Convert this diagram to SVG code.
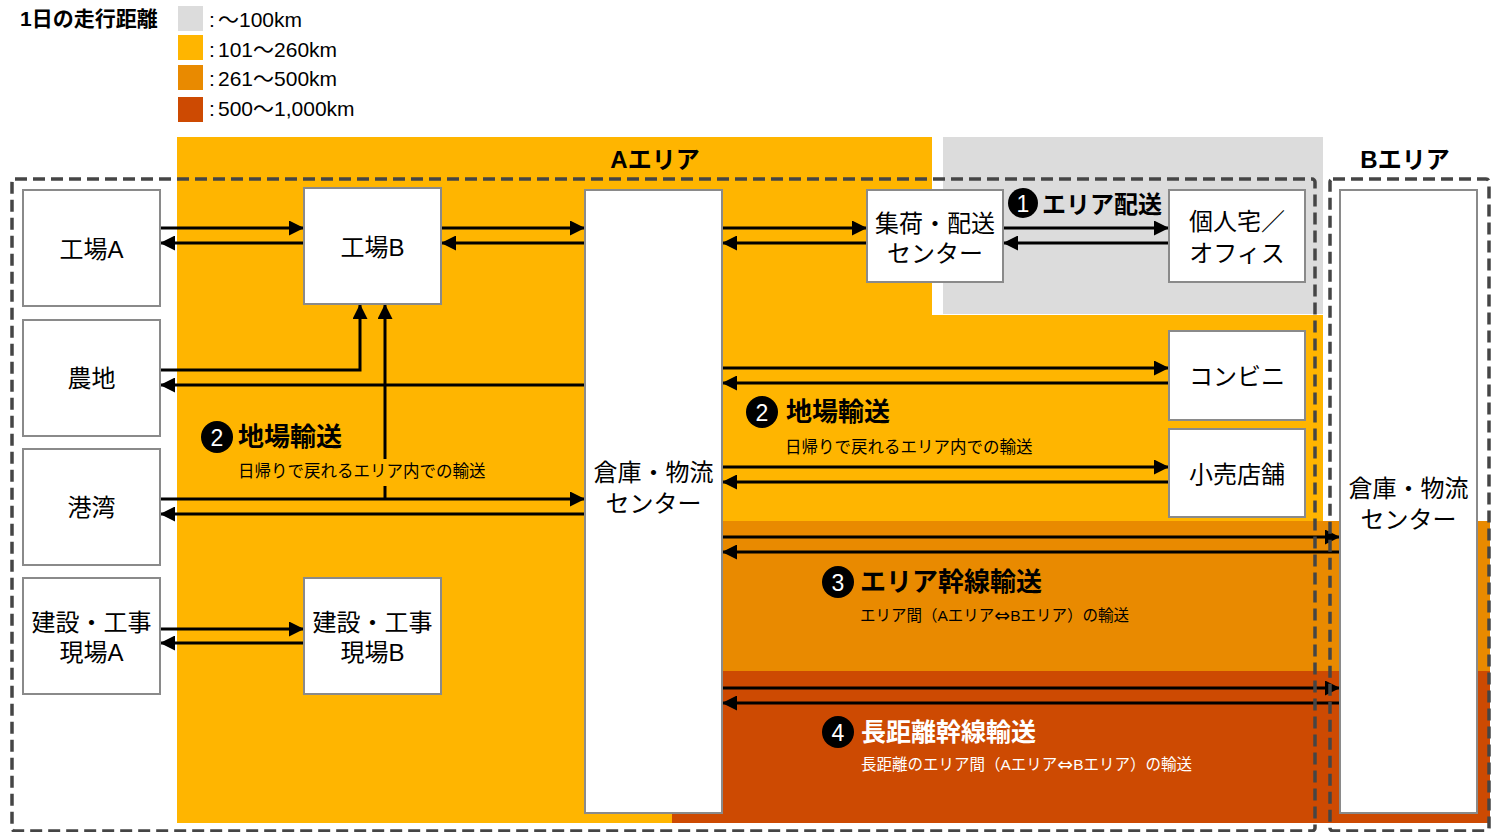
<svg xmlns="http://www.w3.org/2000/svg" width="1498" height="832" viewBox="0 0 1498 832">
  <style>
    text { font-family: "Liberation Sans", "Noto Sans CJK JP", sans-serif; fill: #000; }
    .node rect { fill: #fff; stroke: #8a8a8a; stroke-width: 2; }
    .node text { font-size: 24px; text-anchor: middle; dominant-baseline: central; }
    .area { fill: none; stroke: #454545; stroke-width: 3.5; stroke-dasharray: 12 6; }
    .conn path { fill: none; stroke: #000; stroke-width: 3; marker-end: url(#arrow); }
    .head { font-size: 26px; font-weight: bold; dominant-baseline: central; }
    .sub { font-size: 16.5px; dominant-baseline: central; }
    .dbl { font-family: "DejaVu Sans", sans-serif; font-size: 19px; }
    .num circle { fill: #000; }
    .num text { fill: #fff; font-size: 23px; text-anchor: middle; dominant-baseline: central; }
    .legend { font-size: 21px; }
    .areaTitle { font-size: 24px; font-weight: bold; text-anchor: middle; dominant-baseline: central; }
  </style>
  <defs>
    <marker id="arrow" markerUnits="userSpaceOnUse" markerWidth="15" markerHeight="15" refX="15" refY="7.5" orient="auto">
      <path d="M0,0 L15,7.5 L0,15 z" fill="#000"/>
    </marker>
  </defs>

  <rect width="1498" height="832" fill="#fff"/>

  <!-- legend: daily travel distance -->
  <g id="legend">
    <text x="20" y="26" style="font-size:21px;font-weight:bold">1日の走行距離</text>
    <rect x="178" y="6" width="25" height="25" fill="#dcdcdc"/>
    <rect x="178" y="35" width="25" height="25" fill="#ffb500"/>
    <rect x="178" y="65" width="25" height="25" fill="#e98a00"/>
    <rect x="178" y="97" width="25" height="25" fill="#cd4a02"/>
    <text class="legend" x="209" y="27">:<tspan x="218">～100km</tspan></text>
    <text class="legend" x="209" y="57">:<tspan x="218">101～260km</tspan></text>
    <text class="legend" x="209" y="86">:<tspan x="218">261～500km</tspan></text>
    <text class="legend" x="209" y="116">:<tspan x="218">500～1,000km</tspan></text>
  </g>

  <!-- distance bands -->
  <g id="bands">
    <rect x="177" y="137" width="755" height="686" fill="#ffb500"/>
    <rect x="177" y="315" width="1146" height="206" fill="#ffb500"/>
    <rect x="943" y="137" width="380" height="177" fill="#dcdcdc"/>
    <rect x="722" y="521" width="768" height="150" fill="#e98a00"/>
    <rect x="672" y="671" width="818" height="152" fill="#cd4a02"/>
  </g>

  <!-- area titles -->
  <text class="areaTitle" x="655" y="159">Aエリア</text>
  <text class="areaTitle" x="1405" y="159">Bエリア</text>

  <!-- connectors -->
  <g id="connectors" class="conn">
    <path d="M160,228 H304"/>
    <path d="M304,243 H160"/>
    <path d="M441,228 H585"/>
    <path d="M585,243 H441"/>
    <path d="M722,228 H867"/>
    <path d="M867,243 H722"/>
    <path d="M1003,228 H1169"/>
    <path d="M1169,243 H1003"/>
    <path d="M160,370 H360 V304"/>
    <path d="M585,385 H160"/>
    <path d="M385,499 V304"/>
    <path d="M160,499 H585"/>
    <path d="M585,514 H160"/>
    <path d="M160,629 H304"/>
    <path d="M304,643 H160"/>
    <path d="M722,368 H1169"/>
    <path d="M1169,383 H722"/>
    <path d="M722,467 H1169"/>
    <path d="M1169,482 H722"/>
    <path d="M722,537 H1340"/>
    <path d="M1340,552 H722"/>
    <path d="M722,688 H1340"/>
    <path d="M1340,703 H722"/>
  </g>

  <!-- area boundaries -->
  <rect class="area" x="12" y="179" width="1303" height="652" rx="3"/>
  <rect class="area" x="1330" y="179" width="159" height="652" rx="3"/>

  <!-- nodes -->
  <g id="factoryA" class="node"><rect x="23" y="190" width="137" height="116"/><text x="91.5" y="249">工場A</text></g>
  <g id="factoryB" class="node"><rect x="304" y="188" width="137" height="116"/><text x="372.5" y="247">工場B</text></g>
  <g id="farm" class="node"><rect x="23" y="320" width="137" height="116"/><text x="91.5" y="378">農地</text></g>
  <g id="port" class="node"><rect x="23" y="449" width="137" height="116"/><text x="91.5" y="507">港湾</text></g>
  <g id="siteA" class="node"><rect x="23" y="578" width="137" height="116"/><text x="91.5" y="622">建設・工事</text><text x="91.5" y="652">現場A</text></g>
  <g id="siteB" class="node"><rect x="304" y="578" width="137" height="116"/><text x="372.5" y="622">建設・工事</text><text x="372.5" y="652">現場B</text></g>
  <g id="warehouseA" class="node"><rect x="585" y="190" width="137" height="623"/><text x="653.5" y="472">倉庫・物流</text><text x="653.5" y="503">センター</text></g>
  <g id="deliveryCenter" class="node"><rect x="867" y="190" width="136" height="92"/><text x="935" y="223">集荷・配送</text><text x="935" y="253">センター</text></g>
  <g id="homeOffice" class="node"><rect x="1169" y="190" width="136" height="92"/><text x="1237" y="221">個人宅／</text><text x="1237" y="253">オフィス</text></g>
  <g id="convenience" class="node"><rect x="1169" y="331" width="136" height="89"/><text x="1237" y="376">コンビニ</text></g>
  <g id="retail" class="node"><rect x="1169" y="429" width="136" height="88"/><text x="1237" y="474">小売店舗</text></g>
  <g id="warehouseB" class="node"><rect x="1340" y="190" width="137" height="623"/><text x="1408.5" y="488">倉庫・物流</text><text x="1408.5" y="519">センター</text></g>

  <!-- transport labels -->
  <g id="label1">
    <g class="num"><circle cx="1023" cy="203" r="15"/><text x="1023" y="204">1</text></g>
    <text class="head" x="1042" y="204" style="font-size:24px">エリア配送</text>
  </g>
  <g id="label2left">
    <g class="num"><circle cx="217" cy="437" r="16"/><text x="217" y="438">2</text></g>
    <text class="head" x="238" y="437">地場輸送</text>
    <rect x="236" y="459" width="258" height="27" fill="#ffb500"/>
    <text class="sub" x="238" y="471">日帰りで戻れるエリア内での輸送</text>
  </g>
  <g id="label2right">
    <g class="num"><circle cx="762" cy="412" r="16"/><text x="762" y="413">2</text></g>
    <text class="head" x="786" y="412">地場輸送</text>
    <text class="sub" x="785" y="447">日帰りで戻れるエリア内での輸送</text>
  </g>
  <g id="label3">
    <g class="num"><circle cx="838" cy="582" r="16"/><text x="838" y="583">3</text></g>
    <text class="head" x="860" y="582">エリア幹線輸送</text>
    <text class="sub" x="860" y="615" style="font-size:15.5px">エリア間（Aエリア<tspan class="dbl">⇔</tspan>Bエリア）の輸送</text>
  </g>
  <g id="label4">
    <g class="num"><circle cx="838" cy="732" r="16"/><text x="838" y="733">4</text></g>
    <text class="head" x="861" y="732" style="fill:#fff;font-size:25px">長距離幹線輸送</text>
    <text class="sub" x="861" y="764" style="font-size:15.5px;fill:#fff">長距離のエリア間（Aエリア<tspan class="dbl">⇔</tspan>Bエリア）の輸送</text>
  </g>
</svg>
